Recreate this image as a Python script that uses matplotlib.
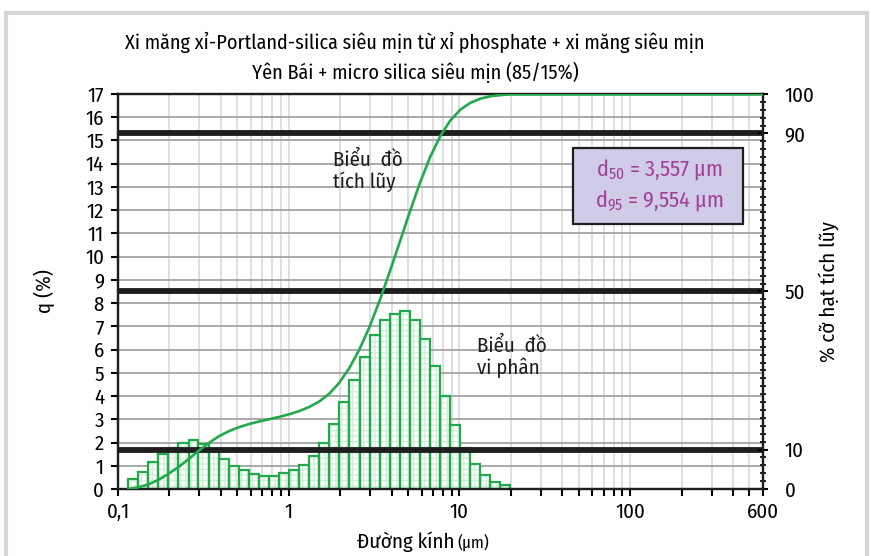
"""Particle size distribution of ultrafine slag-Portland-silica cement:
differential histogram (left axis) and cumulative curve (right axis)."""

import numpy as np
import matplotlib
matplotlib.use("Agg")
import matplotlib.pyplot as plt
import matplotlib.ticker as mticker
from matplotlib.patches import Rectangle

# Fonts: condensed sans, DejaVu as fallback for missing glyphs
FONT = ["Fira Sans Condensed", "Roboto Condensed", "Sofia Sans Condensed", "DejaVu Sans"]
plt.rcParams["font.family"] = FONT
plt.rcParams["mathtext.fontset"] = "custom"
plt.rcParams["mathtext.rm"] = FONT[0]
plt.rcParams["mathtext.it"] = FONT[0]

# Colours
C_GREEN = "#22a94b"
C_HATCH = "#d3efda"
C_HGRID = "#a3a3a3"
C_VGRID = "#dcdcdc"
C_BLACK = "#1e1e1e"
C_BOX = "#d0cbe6"
C_BOXTXT = "#a2409a"
C_FRAME = "#d6d6d6"

# Data: bin edges (um) and differential q (%) per bin
bin_edges = [0.115, 0.131, 0.150, 0.172, 0.197, 0.226, 0.259, 0.296, 0.339,
             0.389, 0.445, 0.510, 0.584, 0.669, 0.766, 0.877, 1.005, 1.151,
             1.318, 1.510, 1.729, 1.981, 2.269, 2.599, 2.976, 3.409, 3.905,
             4.472, 5.122, 5.867, 6.720, 7.697, 8.816, 10.097, 11.565,
             13.246, 15.172, 17.377, 19.904]
q_values = [0.41, 0.72, 1.16, 1.52, 1.75, 2.00, 2.09, 1.95, 1.72, 1.30,
            1.01, 0.80, 0.65, 0.58, 0.58, 0.68, 0.80, 1.04, 1.40, 1.97,
            2.81, 3.74, 4.71, 5.68, 6.62, 7.29, 7.55, 7.65, 7.29, 6.47,
            5.29, 4.00, 2.77, 1.75, 1.06, 0.62, 0.29, 0.18]

# Reference levels for the cumulative curve (%)
ref_levels = [10, 50, 90]
x_ticks = [0.1, 1, 10, 100, 600]
x_ticklabels = ["0,1", "1", "10", "100", "600"]
right_ticks = [0, 10, 50, 90, 100]

fig = plt.figure(figsize=(8.71, 5.56), dpi=100)
ax = fig.add_axes([118 / 871, 1 - 489 / 556, 645 / 871, 395 / 556])

# Outer panel frame
fig.patches.append(Rectangle((6 / 871, -0.05), 861 / 871, 1.05 - 13 / 556,
                             transform=fig.transFigure, fill=False,
                             edgecolor=C_FRAME, linewidth=3.0, zorder=0))

ax.set_xscale("log")
ax.set_xlim(0.1, 600)
ax.set_ylim(0, 17)

# Grid: gray horizontals per unit, light verticals at log minors
ax.set_yticks(range(0, 18))
ax.yaxis.grid(True, color=C_HGRID, linewidth=1.3)
ax.xaxis.set_major_locator(mticker.FixedLocator(x_ticks))
ax.xaxis.set_major_formatter(mticker.FixedFormatter(x_ticklabels))
ax.xaxis.set_minor_locator(mticker.LogLocator(base=10, subs=np.arange(2, 10), numticks=20))
ax.xaxis.set_minor_formatter(mticker.NullFormatter())
ax.xaxis.grid(True, which="both", color=C_VGRID, linewidth=1.3)
ax.set_axisbelow(True)

# Differential histogram: pale hatch fill, then green outline
left = np.array(bin_edges[:-1])
width = np.array(bin_edges[1:]) - left
ax.bar(left, q_values, width=width, align="edge", color="white",
       edgecolor=C_HATCH, hatch="+++", linewidth=0, zorder=2)
ax.bar(left, q_values, width=width, align="edge", fill=False,
       edgecolor=C_GREEN, linewidth=1.6, zorder=3)

ax.tick_params(axis="y", direction="out", length=5, width=1.5, pad=5,
               labelsize=15)
ax.tick_params(axis="x", which="both", direction="out", length=5, width=1.5,
               pad=5, labelsize=15)
for s in ax.spines.values():
    s.set_color(C_BLACK)
    s.set_linewidth(1.6)

ax.set_ylabel("q (%)", fontsize=15, labelpad=22)

# x label: smaller unit after the main words
fig.text(454 / 871, 1 - 548 / 556, "Đường kính", fontsize=15,
         ha="right", va="baseline")
fig.text(457 / 871, 1 - 548 / 556, "(µm)", fontsize=12,
         ha="left", va="baseline")

# Cumulative curve on the right axis
ax2 = ax.twinx()
ax2.set_ylim(0, 100)
cum_x = bin_edges
cum_y = np.concatenate([[0], np.cumsum(q_values)])
for lvl in ref_levels:
    ax2.axhline(lvl, color=C_BLACK, linewidth=4.2, zorder=1)
ax2.plot(list(cum_x) + [600], list(cum_y) + [cum_y[-1]], color=C_GREEN,
         linewidth=1.9, zorder=3)
ax2.set_yticks(right_ticks)
ax2.yaxis.set_minor_locator(mticker.MultipleLocator(2))
ax2.tick_params(axis="y", which="major", direction="inout", length=7,
                width=1.5, pad=12, labelsize=15)
ax2.tick_params(axis="y", which="minor", direction="inout", length=5, width=1.2)
for s in ax2.spines.values():
    s.set_color(C_BLACK)
    s.set_linewidth(1.6)
ax2.set_ylabel("% cỡ hạt tích lũy", fontsize=15, labelpad=3)

# Curve labels
ax2.text(1.82, 85.8, "Biểu  đồ\ntích lũy", fontsize=15, color=C_BLACK,
         ha="left", va="top", linespacing=1.1, zorder=4)
ax2.text(12.6, 38.7, "Biểu  đồ\nvi phân", fontsize=15, color=C_BLACK,
         ha="left", va="top", linespacing=1.1, zorder=4)

# d50 / d95 box
ax2.add_patch(Rectangle((0.705, 0.670), 0.264, 0.1925, transform=ax2.transAxes,
                        facecolor=C_BOX, edgecolor=C_BLACK, linewidth=1.6,
                        zorder=5))
ax2.text(0.84, 0.808, "d$_{50}$ = 3,557 µm", transform=ax2.transAxes,
         fontsize=16, color=C_BOXTXT, ha="center", va="center", zorder=6)
ax2.text(0.84, 0.730, "d$_{95}$ = 9,554 µm", transform=ax2.transAxes,
         fontsize=16, color=C_BOXTXT, ha="center", va="center", zorder=6)

# Title
fig.text(415 / 871, 1 - 42 / 556, "Xi măng xỉ-Portland-silica siêu mịn từ xỉ phosphate + xi măng siêu mịn",
         fontsize=14.5, ha="center", va="center")
fig.text(415 / 871, 1 - 72 / 556, "Yên Bái + micro silica siêu mịn (85/15%)",
         fontsize=14.5, ha="center", va="center")

fig.savefig("out.png", dpi=100)
